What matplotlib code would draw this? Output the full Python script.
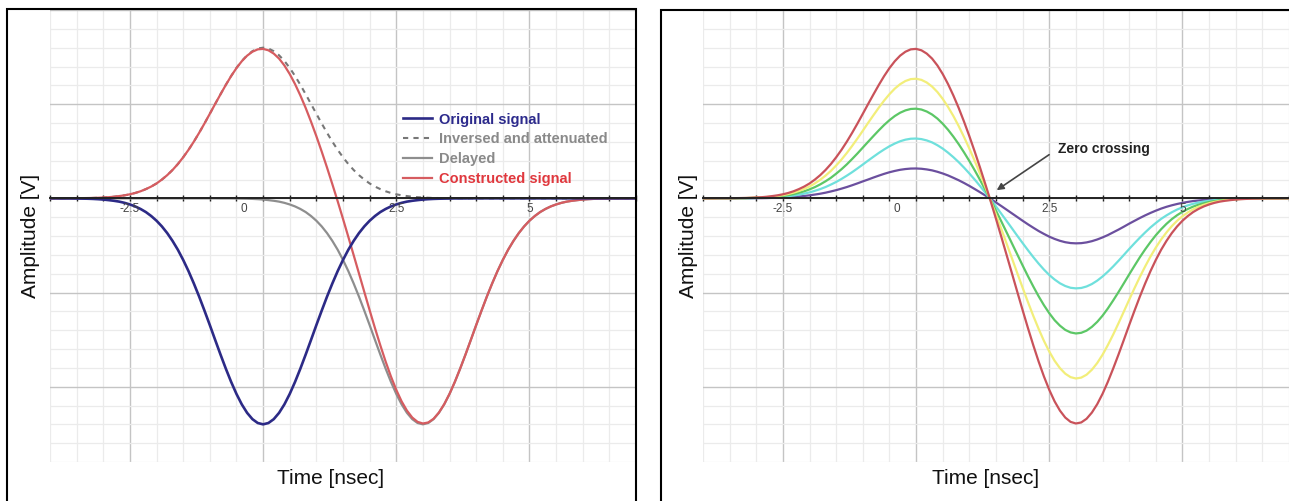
import matplotlib
matplotlib.use('Agg')
import matplotlib.pyplot as plt
from matplotlib.ticker import MultipleLocator
from matplotlib.patches import Rectangle

plt.rcParams['font.family'] = ['Liberation Sans', 'DejaVu Sans']

# ---------------- data ----------------
time_ns = [-4.0, -3.9, -3.8, -3.7, -3.6, -3.5, -3.4, -3.3, -3.2, -3.1,
           -3.0, -2.9, -2.8, -2.7, -2.6, -2.5, -2.4, -2.3, -2.2, -2.1,
           -2.0, -1.9, -1.8, -1.7, -1.6, -1.5, -1.4, -1.3, -1.2, -1.1,
           -1.0, -0.9, -0.8, -0.7, -0.6, -0.5, -0.4, -0.3, -0.2, -0.1,
           0.0, 0.1, 0.2, 0.3, 0.4, 0.5, 0.6, 0.7, 0.8, 0.9,
           1.0, 1.1, 1.2, 1.3, 1.4, 1.5, 1.6, 1.7, 1.8, 1.9,
           2.0, 2.1, 2.2, 2.3, 2.4, 2.5, 2.6, 2.7, 2.8, 2.9,
           3.0, 3.1, 3.2, 3.3, 3.4, 3.5, 3.6, 3.7, 3.8, 3.9,
           4.0, 4.1, 4.2, 4.3, 4.4, 4.5, 4.6, 4.7, 4.8, 4.9,
           5.0, 5.1, 5.2, 5.3, 5.4, 5.5, 5.6, 5.7, 5.8, 5.9,
           6.0, 6.1, 6.2, 6.3, 6.4, 6.5, 6.6, 6.7, 6.8, 6.9, 7.0]

original = [0.000, 0.000, -0.001, -0.001, -0.001, -0.002, -0.003, -0.004, -0.006, -0.009,
            -0.013, -0.019, -0.026, -0.035, -0.048, -0.065, -0.086, -0.113, -0.146, -0.188,
            -0.238, -0.298, -0.369, -0.452, -0.546, -0.654, -0.773, -0.904, -1.044, -1.193,
            -1.346, -1.503, -1.658, -1.808, -1.949, -2.077, -2.188, -2.278, -2.345, -2.386,
            -2.400, -2.386, -2.345, -2.278, -2.188, -2.077, -1.949, -1.808, -1.658, -1.503,
            -1.346, -1.193, -1.044, -0.904, -0.773, -0.654, -0.546, -0.452, -0.369, -0.298,
            -0.238, -0.188, -0.146, -0.113, -0.086, -0.065, -0.048, -0.035, -0.026, -0.019,
            -0.013, -0.009, -0.006, -0.004, -0.003, -0.002, -0.001, -0.001, -0.001, 0.000,
            0.000, 0.000, 0.000, 0.000, 0.000, 0.000, 0.000, 0.000, 0.000, 0.000,
            0.000, 0.000, 0.000, 0.000, 0.000, 0.000, 0.000, 0.000, 0.000, 0.000,
            0.000, 0.000, 0.000, 0.000, 0.000, 0.000, 0.000, 0.000, 0.000, 0.000, 0.000]

inversed = [0.000, 0.000, 0.000, 0.001, 0.001, 0.001, 0.002, 0.003, 0.004, 0.006,
            0.009, 0.012, 0.017, 0.024, 0.032, 0.043, 0.057, 0.075, 0.098, 0.125,
            0.158, 0.199, 0.246, 0.301, 0.364, 0.436, 0.515, 0.602, 0.696, 0.795,
            0.898, 1.002, 1.105, 1.205, 1.299, 1.385, 1.459, 1.519, 1.563, 1.591,
            1.600, 1.591, 1.563, 1.519, 1.459, 1.385, 1.299, 1.205, 1.105, 1.002,
            0.898, 0.795, 0.696, 0.602, 0.515, 0.436, 0.364, 0.301, 0.246, 0.199,
            0.158, 0.125, 0.098, 0.075, 0.057, 0.043, 0.032, 0.024, 0.017, 0.012,
            0.009, 0.006, 0.004, 0.003, 0.002, 0.001, 0.001, 0.001, 0.000, 0.000,
            0.000, 0.000, 0.000, 0.000, 0.000, 0.000, 0.000, 0.000, 0.000, 0.000,
            0.000, 0.000, 0.000, 0.000, 0.000, 0.000, 0.000, 0.000, 0.000, 0.000,
            0.000, 0.000, 0.000, 0.000, 0.000, 0.000, 0.000, 0.000, 0.000, 0.000, 0.000]

delayed = [0.000, 0.000, 0.000, 0.000, 0.000, 0.000, 0.000, 0.000, 0.000, 0.000,
           0.000, 0.000, 0.000, 0.000, 0.000, 0.000, 0.000, 0.000, 0.000, 0.000,
           0.000, 0.000, 0.000, 0.000, 0.000, 0.000, 0.000, 0.000, 0.000, 0.000,
           0.000, 0.000, -0.001, -0.001, -0.001, -0.002, -0.003, -0.004, -0.006, -0.009,
           -0.013, -0.019, -0.026, -0.035, -0.048, -0.065, -0.086, -0.113, -0.146, -0.188,
           -0.238, -0.298, -0.369, -0.452, -0.546, -0.654, -0.773, -0.904, -1.044, -1.193,
           -1.346, -1.503, -1.658, -1.808, -1.949, -2.077, -2.188, -2.278, -2.345, -2.386,
           -2.400, -2.386, -2.345, -2.278, -2.188, -2.077, -1.949, -1.808, -1.658, -1.503,
           -1.346, -1.193, -1.044, -0.904, -0.773, -0.654, -0.546, -0.452, -0.369, -0.298,
           -0.238, -0.188, -0.146, -0.113, -0.086, -0.065, -0.048, -0.035, -0.026, -0.019,
           -0.013, -0.009, -0.006, -0.004, -0.003, -0.002, -0.001, -0.001, -0.001, 0.000, 0.000]

constructed = [0.000, 0.000, 0.000, 0.001, 0.001, 0.001, 0.002, 0.003, 0.004, 0.006,
               0.009, 0.012, 0.017, 0.024, 0.032, 0.043, 0.057, 0.075, 0.098, 0.125,
               0.158, 0.199, 0.246, 0.301, 0.364, 0.436, 0.515, 0.602, 0.696, 0.795,
               0.898, 1.002, 1.104, 1.204, 1.298, 1.383, 1.456, 1.515, 1.557, 1.582,
               1.587, 1.572, 1.537, 1.484, 1.411, 1.320, 1.213, 1.092, 0.959, 0.814,
               0.660, 0.497, 0.327, 0.150, -0.031, -0.218, -0.409, -0.603, -0.798, -0.994,
               -1.188, -1.378, -1.560, -1.733, -1.892, -2.034, -2.156, -2.254, -2.328, -2.374,
               -2.391, -2.380, -2.341, -2.275, -2.186, -2.076, -1.948, -1.807, -1.658, -1.503,
               -1.346, -1.193, -1.044, -0.904, -0.773, -0.654, -0.546, -0.452, -0.369, -0.298,
               -0.238, -0.188, -0.146, -0.113, -0.086, -0.065, -0.048, -0.035, -0.026, -0.019,
               -0.013, -0.009, -0.006, -0.004, -0.003, -0.002, -0.001, -0.001, -0.001, 0.000, 0.000]

# right panel: constructed pulses for several attenuation settings
pulse_red = [0.000, 0.000, 0.000, 0.001, 0.001, 0.001, 0.002, 0.003, 0.004, 0.006,
             0.009, 0.012, 0.017, 0.024, 0.032, 0.043, 0.057, 0.075, 0.098, 0.125,
             0.158, 0.199, 0.246, 0.301, 0.364, 0.436, 0.515, 0.602, 0.696, 0.795,
             0.898, 1.002, 1.104, 1.204, 1.298, 1.383, 1.456, 1.515, 1.557, 1.582,
             1.587, 1.572, 1.537, 1.484, 1.411, 1.320, 1.213, 1.092, 0.959, 0.814,
             0.660, 0.497, 0.327, 0.150, -0.031, -0.218, -0.409, -0.603, -0.798, -0.994,
             -1.188, -1.378, -1.560, -1.733, -1.892, -2.034, -2.156, -2.254, -2.328, -2.374,
             -2.391, -2.380, -2.341, -2.275, -2.186, -2.076, -1.948, -1.807, -1.658, -1.503,
             -1.346, -1.193, -1.044, -0.904, -0.773, -0.654, -0.546, -0.452, -0.369, -0.298,
             -0.238, -0.188, -0.146, -0.113, -0.086, -0.065, -0.048, -0.035, -0.026, -0.019,
             -0.013, -0.009, -0.006, -0.004, -0.003, -0.002, -0.001, -0.001, -0.001, 0.000, 0.000]

pulse_yellow = [0.000, 0.000, 0.000, 0.001, 0.001, 0.001, 0.002, 0.002, 0.003, 0.005,
                0.007, 0.010, 0.014, 0.019, 0.026, 0.034, 0.046, 0.060, 0.078, 0.100,
                0.126, 0.159, 0.197, 0.241, 0.291, 0.349, 0.412, 0.482, 0.557, 0.636,
                0.718, 0.802, 0.883, 0.963, 1.038, 1.106, 1.165, 1.212, 1.246, 1.266,
                1.270, 1.258, 1.230, 1.187, 1.129, 1.056, 0.970, 0.874, 0.767, 0.651,
                0.528, 0.398, 0.262, 0.120, -0.025, -0.174, -0.327, -0.482, -0.638, -0.795,
                -0.950, -1.102, -1.248, -1.386, -1.514, -1.627, -1.725, -1.803, -1.862, -1.899,
                -1.913, -1.904, -1.873, -1.820, -1.749, -1.661, -1.558, -1.446, -1.326, -1.202,
                -1.077, -0.954, -0.835, -0.723, -0.618, -0.523, -0.437, -0.362, -0.295, -0.238,
                -0.190, -0.150, -0.117, -0.090, -0.069, -0.052, -0.038, -0.028, -0.021, -0.015,
                -0.010, -0.007, -0.005, -0.003, -0.002, -0.002, -0.001, -0.001, -0.001, 0.000, 0.000]

pulse_green = [0.000, 0.000, 0.000, 0.001, 0.001, 0.001, 0.001, 0.002, 0.002, 0.004,
               0.005, 0.007, 0.010, 0.014, 0.019, 0.026, 0.034, 0.045, 0.059, 0.075,
               0.095, 0.119, 0.148, 0.181, 0.218, 0.262, 0.309, 0.361, 0.418, 0.477,
               0.539, 0.601, 0.662, 0.722, 0.779, 0.830, 0.874, 0.909, 0.934, 0.949,
               0.952, 0.943, 0.922, 0.890, 0.847, 0.792, 0.728, 0.655, 0.575, 0.488,
               0.396, 0.298, 0.196, 0.090, -0.019, -0.131, -0.245, -0.362, -0.479, -0.596,
               -0.713, -0.827, -0.936, -1.040, -1.135, -1.220, -1.294, -1.352, -1.397, -1.424,
               -1.435, -1.428, -1.405, -1.365, -1.312, -1.246, -1.169, -1.084, -0.995, -0.902,
               -0.808, -0.716, -0.626, -0.542, -0.464, -0.392, -0.328, -0.271, -0.221, -0.179,
               -0.143, -0.113, -0.088, -0.068, -0.052, -0.039, -0.029, -0.021, -0.016, -0.011,
               -0.008, -0.005, -0.004, -0.002, -0.002, -0.001, -0.001, -0.001, -0.001, 0.000, 0.000]

pulse_cyan = [0.000, 0.000, 0.000, 0.000, 0.000, 0.000, 0.001, 0.001, 0.002, 0.002,
              0.004, 0.005, 0.007, 0.010, 0.013, 0.017, 0.023, 0.030, 0.039, 0.050,
              0.063, 0.080, 0.098, 0.120, 0.146, 0.174, 0.206, 0.241, 0.278, 0.318,
              0.359, 0.401, 0.442, 0.482, 0.519, 0.553, 0.582, 0.606, 0.623, 0.633,
              0.635, 0.629, 0.615, 0.594, 0.564, 0.528, 0.485, 0.437, 0.384, 0.326,
              0.264, 0.199, 0.131, 0.060, -0.012, -0.087, -0.164, -0.241, -0.319, -0.398,
              -0.475, -0.551, -0.624, -0.693, -0.757, -0.814, -0.862, -0.902, -0.931, -0.950,
              -0.956, -0.952, -0.936, -0.910, -0.874, -0.830, -0.779, -0.723, -0.663, -0.601,
              -0.538, -0.477, -0.418, -0.362, -0.309, -0.262, -0.218, -0.181, -0.148, -0.119,
              -0.095, -0.075, -0.058, -0.045, -0.034, -0.026, -0.019, -0.014, -0.010, -0.008,
              -0.005, -0.004, -0.002, -0.002, -0.001, -0.001, 0.000, 0.000, 0.000, 0.000, 0.000]

pulse_purple = [0.000, 0.000, 0.000, 0.000, 0.000, 0.000, 0.000, 0.001, 0.001, 0.001,
                0.002, 0.002, 0.003, 0.005, 0.006, 0.009, 0.011, 0.015, 0.020, 0.025,
                0.032, 0.040, 0.049, 0.060, 0.073, 0.087, 0.103, 0.120, 0.139, 0.159,
                0.180, 0.200, 0.221, 0.241, 0.260, 0.277, 0.291, 0.303, 0.311, 0.316,
                0.317, 0.314, 0.307, 0.297, 0.282, 0.264, 0.243, 0.218, 0.192, 0.163,
                0.132, 0.099, 0.065, 0.030, -0.006, -0.044, -0.082, -0.121, -0.160, -0.199,
                -0.238, -0.276, -0.312, -0.347, -0.378, -0.407, -0.431, -0.451, -0.466, -0.475,
                -0.478, -0.476, -0.468, -0.455, -0.437, -0.415, -0.390, -0.361, -0.332, -0.301,
                -0.269, -0.239, -0.209, -0.181, -0.155, -0.131, -0.109, -0.090, -0.074, -0.060,
                -0.048, -0.038, -0.029, -0.023, -0.017, -0.013, -0.010, -0.007, -0.005, -0.004,
                -0.003, -0.002, -0.001, -0.001, -0.001, 0.000, 0.000, 0.000, 0.000, 0.000, 0.000]

xtick_values = [-2.5, 0, 2.5, 5]
xtick_labels = ['-2.5', '0', '2.5', '5']
legend_labels = ['Original signal', 'Inversed and attenuated', 'Delayed', 'Constructed signal']

# ---------------- figure ----------------
W, H = 1289, 501
fig = plt.figure(figsize=(W / 100, H / 100), dpi=100)


def px_axes(l, r, t, b):
    return fig.add_axes([l / W, (H - b) / H, (r - l) / W, (b - t) / H])


def style(ax):
    ax.set_xlim(-4, 7)
    ax.set_ylim(-2.8, 2.0)
    ax.xaxis.set_major_locator(MultipleLocator(2.5))
    ax.xaxis.set_minor_locator(MultipleLocator(0.5))
    ax.yaxis.set_major_locator(MultipleLocator(1))
    ax.yaxis.set_minor_locator(MultipleLocator(0.2))
    ax.grid(which='major', color='#c4c4c4', lw=1.0)
    ax.grid(which='minor', color='#ebebeb', lw=0.9)
    ax.set_axisbelow(True)
    for s in ['left', 'right', 'top']:
        ax.spines[s].set_visible(False)
    ax.spines['bottom'].set_position(('data', 0))
    ax.spines['bottom'].set_color('#222222')
    ax.spines['bottom'].set_linewidth(1.4)
    ax.tick_params(axis='x', which='both', direction='inout', length=5, width=1.0,
                   color='#222222', labelbottom=False)
    ax.tick_params(axis='y', which='both', length=0, labelleft=False)
    for v, t in zip(xtick_values, xtick_labels):
        dx = -19 if t == '0' else 0
        ax.annotate(t, (v, 0), xytext=(dx, -11), textcoords='offset pixels',
                    ha='center', va='center', fontsize=8.5, color='#444444')


ax1 = px_axes(50, 636, 10, 462)
ax2 = px_axes(703, 1289, 10, 462)
style(ax1)
style(ax2)

# left panel
l_inv, = ax1.plot(time_ns, inversed, color='#777777', lw=1.5, ls=(0, (2.5, 2.5)), zorder=2.0)
l_del, = ax1.plot(time_ns, delayed, color='#8e8e8e', lw=1.6, zorder=2.1)
l_con, = ax1.plot(time_ns, constructed, color='#d65c60', lw=1.6, zorder=2.2)
l_org, = ax1.plot(time_ns, original, color='#2c2a86', lw=1.9, zorder=2.3)

leg = ax1.legend([l_org, l_inv, l_del, l_con], legend_labels,
                 loc='upper left', bbox_to_anchor=(0.602, 0.773), frameon=False,
                 prop={'weight': 'bold', 'size': 10.5}, handlelength=2.0,
                 handletextpad=0.5, labelspacing=0.39, borderpad=0, borderaxespad=0)
for txt, c in zip(leg.get_texts(), ['#2c2a8c', '#8a8a8a', '#8a8a8a', '#e0383e']):
    txt.set_color(c)

# right panel
ax2.plot(time_ns, pulse_purple, color='#6b4f9e', lw=1.6)
ax2.plot(time_ns, pulse_cyan, color='#6fe0dc', lw=1.6)
ax2.plot(time_ns, pulse_green, color='#5cc766', lw=1.6)
ax2.plot(time_ns, pulse_yellow, color='#f2ee7a', lw=1.6)
ax2.plot(time_ns, pulse_red, color='#c9525a', lw=1.6)

ax2.annotate('', xy=(1.47, 0.07), xytext=(2.54, 0.48),
             arrowprops=dict(arrowstyle='-|>', color='#444444', lw=1.2, mutation_scale=10))
ax2.text(2.67, 0.52, 'Zero crossing', fontsize=10, fontweight='bold', va='center',
         ha='left', color='#222222')

# frames around each panel
fig.add_artist(Rectangle((7 / W, -0.1), (636 - 7) / W, (H - 9) / H + 0.1,
                         transform=fig.transFigure, fill=False, ec='black', lw=1.5))
fig.add_artist(Rectangle((661 / W, -0.1), 1.0, (H - 10) / H + 0.1,
                         transform=fig.transFigure, fill=False, ec='black', lw=1.5))

# axis titles
for xc in (331, 986):
    fig.text(xc / W, 1 - 479 / H, 'Time [nsec]', ha='center', va='center',
             fontsize=15, color='#111111')
for xc in (30, 689):
    fig.text(xc / W, 1 - 236 / H, 'Amplitude [V]', ha='center', va='center',
             rotation=90, fontsize=15, color='#111111')

fig.savefig('out.png', dpi=100)
